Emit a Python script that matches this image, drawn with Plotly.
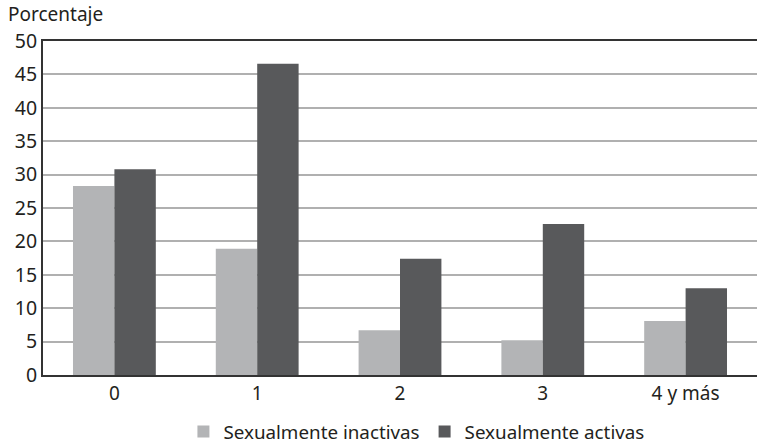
import plotly.graph_objects as go

categories = ["0", "1", "2", "3", "4 y más"]
inactivas = [28.3, 18.9, 6.7, 5.2, 8.1]
activas = [30.8, 46.6, 17.4, 22.6, 13.0]
y_ticks = [0, 5, 10, 15, 20, 25, 30, 35, 40, 45, 50]

FONT = "Noto Sans"

fig = go.Figure()
fig.add_trace(go.Bar(x=categories, y=inactivas, name="Sexualmente inactivas",
                     marker=dict(color="#b3b4b6", line=dict(width=0))))
fig.add_trace(go.Bar(x=categories, y=activas, name="Sexualmente activas",
                     marker=dict(color="#58595b", line=dict(width=0))))

fig.update_layout(
    width=757, height=447,
    margin=dict(l=43, r=0, t=41, b=72, autoexpand=False),
    paper_bgcolor="white", plot_bgcolor="white",
    barmode="group", bargap=0.42, bargroupgap=0,
    font=dict(family=FONT, color="#231f20", size=18),
    showlegend=True,
    legend=dict(orientation="h", x=0.523, xanchor="center", y=-0.17, yanchor="middle",
                font=dict(size=18.8), itemwidth=30, traceorder="normal"),
    annotations=[dict(text="Porcentaje", xref="paper", yref="paper", x=-0.052, y=1.035,
                      xanchor="left", yanchor="bottom", showarrow=False,
                      font=dict(size=19, family=FONT, color="#231f20"))],
)
fig.update_xaxes(showline=True, linecolor="#333333", linewidth=2, mirror=True,
                 showgrid=False, ticks="", tickfont=dict(size=19), automargin=False)
fig.update_yaxes(range=[0, 50], tickvals=y_ticks, showline=True, linecolor="#333333",
                 linewidth=2, showgrid=True, gridcolor="#b0b0b0", gridwidth=2,
                 ticks="", zeroline=False, tickfont=dict(size=19.5), automargin=False)

fig.write_html("out.html", config={"displayModeBar": False},
               post_script="document.body.style.margin='0';document.body.style.overflow='hidden';")
